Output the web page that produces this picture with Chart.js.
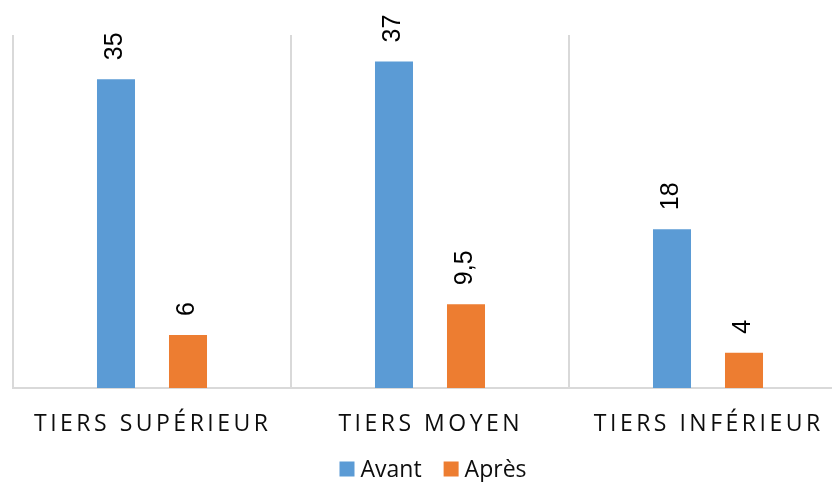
<!DOCTYPE html>
<html>
<head>
<meta charset="utf-8">
<script src="https://cdn.jsdelivr.net/npm/chart.js@4/dist/chart.umd.min.js"></script>
<style>
  html, body { margin: 0; padding: 0; background: #fff; overflow: hidden; }
  #wrap { width: 860px; height: 482px; }
</style>
</head>
<body>
<div id="wrap"><canvas id="c" width="860" height="482"></canvas></div>
<script>
const categories = ["TIERS SUPÉRIEUR", "TIERS MOYEN", "TIERS INFÉRIEUR"];
const avant = [35, 37, 18];
const apres = [6, 9.5, 4];
const seriesNames = ["Avant", "Après"];

const BLUE = "#5B9BD5";
const ORANGE = "#ED7D31";
const GRID = "#D9D9D9";

function frNumber(v) {
  return String(v).replace(".", ",");
}

// Rotated value labels above each bar
const barValueLabels = {
  id: "barValueLabels",
  afterDatasetsDraw(chart) {
    const ctx = chart.ctx;
    ctx.save();
    ctx.font = "25px 'Liberation Sans', Arial, sans-serif";
    ctx.fillStyle = "#000";
    ctx.textAlign = "left";
    ctx.textBaseline = "middle";
    chart.data.datasets.forEach((ds, di) => {
      const meta = chart.getDatasetMeta(di);
      meta.data.forEach((bar, i) => {
        ctx.save();
        ctx.translate(bar.x - 1, bar.y - 19);
        ctx.rotate(-Math.PI / 2);
        ctx.fillText(frNumber(ds.data[i]), 0, 0);
        ctx.restore();
      });
    });
    ctx.restore();
  }
};

// Letter-spaced category names under the axis
const categoryLabels = {
  id: "categoryLabels",
  afterDraw(chart) {
    const ctx = chart.ctx;
    const xs = chart.scales.x;
    const spacing = 3.5;
    ctx.save();
    ctx.font = "23px 'Open Sans', sans-serif";
    ctx.letterSpacing = spacing + "px";
    ctx.fillStyle = "#0d0d0d";
    ctx.textAlign = "center";
    ctx.textBaseline = "middle";
    categories.forEach((name, i) => {
      ctx.fillText(name, xs.getPixelForTick(i) + spacing / 2 - 1, 424);
    });
    ctx.restore();
  }
};

// Compact legend: square swatch, short gap, series name
const compactLegend = {
  id: "compactLegend",
  afterDraw(chart) {
    const ctx = chart.ctx;
    const box = 15, gapText = 6, gapItem = 22, cy = 469;
    ctx.save();
    ctx.font = "23px 'Open Sans', sans-serif";
    ctx.textBaseline = "middle";
    ctx.textAlign = "left";
    const items = chart.data.datasets.map(ds => ({
      text: ds.label, color: ds.backgroundColor, w: ctx.measureText(ds.label).width
    }));
    let total = 0;
    items.forEach((it, i) => { total += box + gapText + it.w + (i ? gapItem : 0); });
    const area = chart.chartArea;
    let x = (area.left + area.right) / 2 + 3 - total / 2;
    items.forEach((it, i) => {
      if (i) x += gapItem;
      ctx.fillStyle = it.color;
      ctx.fillRect(x, cy - box / 2, box, box);
      x += box + gapText;
      ctx.fillStyle = "#0d0d0d";
      ctx.fillText(it.text, x, cy + 1);
      x += it.w;
    });
    ctx.restore();
  }
};

new Chart(document.getElementById("c"), {
  type: "bar",
  data: {
    labels: categories,
    datasets: [
      { label: seriesNames[0], data: avant, backgroundColor: BLUE },
      { label: seriesNames[1], data: apres, backgroundColor: ORANGE }
    ]
  },
  options: {
    responsive: false,
    animation: false,
    events: [],
    layout: { padding: { left: 13, right: 13, top: 35, bottom: 0 } },
    datasets: {
      bar: { categoryPercentage: 0.518, barPercentage: 0.528 }
    },
    scales: {
      x: {
        offset: true,
        grid: { display: true, offset: true, color: GRID, lineWidth: 2, drawTicks: false },
        border: { display: true, color: GRID, width: 2 },
        ticks: { display: false },
        afterFit(scale) { scale.height = 94; }
      },
      y: {
        display: false,
        min: 0,
        max: 40
      }
    },
    plugins: {
      legend: { display: false },
      tooltip: { enabled: false }
    }
  },
  plugins: [barValueLabels, categoryLabels, compactLegend]
});
</script>
</body>
</html>
